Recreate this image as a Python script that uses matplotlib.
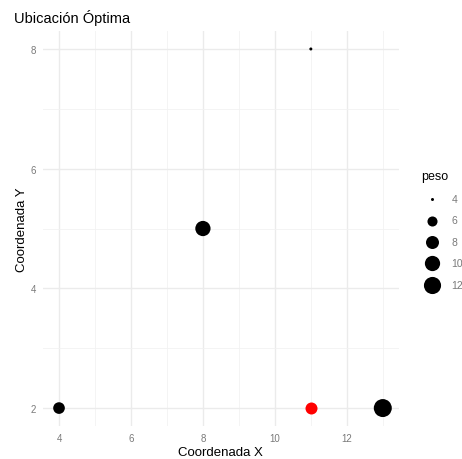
import numpy as np
import matplotlib
matplotlib.use('Agg')
import matplotlib.pyplot as plt

plt.rcParams['font.family'] = ['Liberation Sans', 'DejaVu Sans']

# Data: candidate locations and their weights
x = [4, 8, 11, 13]
y = [2, 5, 8, 2]
peso = [7, 10, 4, 13]

# Optimal location
opt_x = [11]
opt_y = [2]

legend_breaks = [4, 6, 8, 10, 12]


def size_of(w, wmin=min(peso), wmax=max(peso)):
    # ggplot-like area scale: size from 1 to 6, diameter in px ~ 3 * size
    size = 1 + 5 * np.sqrt((np.asarray(w, dtype=float) - wmin) / (wmax - wmin))
    d_pt = 3 * size * 0.72
    return d_pt ** 2


fig = plt.figure(figsize=(4.62, 4.60), dpi=100)
ax = fig.add_axes([0.0927, 0.0717, 0.7709, 0.8587])

ax.scatter(x, y, s=size_of(peso), color='black', zorder=3, linewidths=0)
ax.scatter(opt_x, opt_y, s=(12 * 0.72) ** 2, color='red', zorder=4, linewidths=0)

ax.set_xlim(3.55, 13.45)
ax.set_ylim(1.7, 8.3)
ax.set_xticks([4, 6, 8, 10, 12])
ax.set_yticks([2, 4, 6, 8])
ax.set_xticks([5, 7, 9, 11, 13], minor=True)
ax.set_yticks([3, 5, 7], minor=True)
ax.grid(which='major', color='#EBEBEB', linewidth=1.0)
ax.grid(which='minor', color='#F2F2F2', linewidth=0.6)
ax.set_axisbelow(True)
for s in ax.spines.values():
    s.set_visible(False)
ax.tick_params(which='both', length=0, labelsize=7, colors='#7A7A7A', pad=5)

ax.set_xlabel('Coordenada X', fontsize=9.5, color='black', labelpad=2)
ax.set_ylabel('Coordenada Y', fontsize=9.5, color='black', labelpad=2)
fig.text(14 / 462, 1 - 18 / 460, 'Ubicación Óptima', fontsize=10.5,
         ha='left', va='center')

# Legend for peso
handles = [ax.scatter([], [], s=size_of(b), color='black', linewidths=0)
           for b in legend_breaks]
leg = fig.legend(handles, [str(b) for b in legend_breaks], title='peso',
                 loc='center left', bbox_to_anchor=(417 / 462, 1 - 231 / 460),
                 frameon=False, fontsize=7.5, title_fontsize=9,
                 labelspacing=1.1, handletextpad=0.9, borderaxespad=0)
leg._legend_box.align = 'left'
for t in leg.get_texts():
    t.set_color('#7A7A7A')

fig.savefig('out.png', dpi=100)
